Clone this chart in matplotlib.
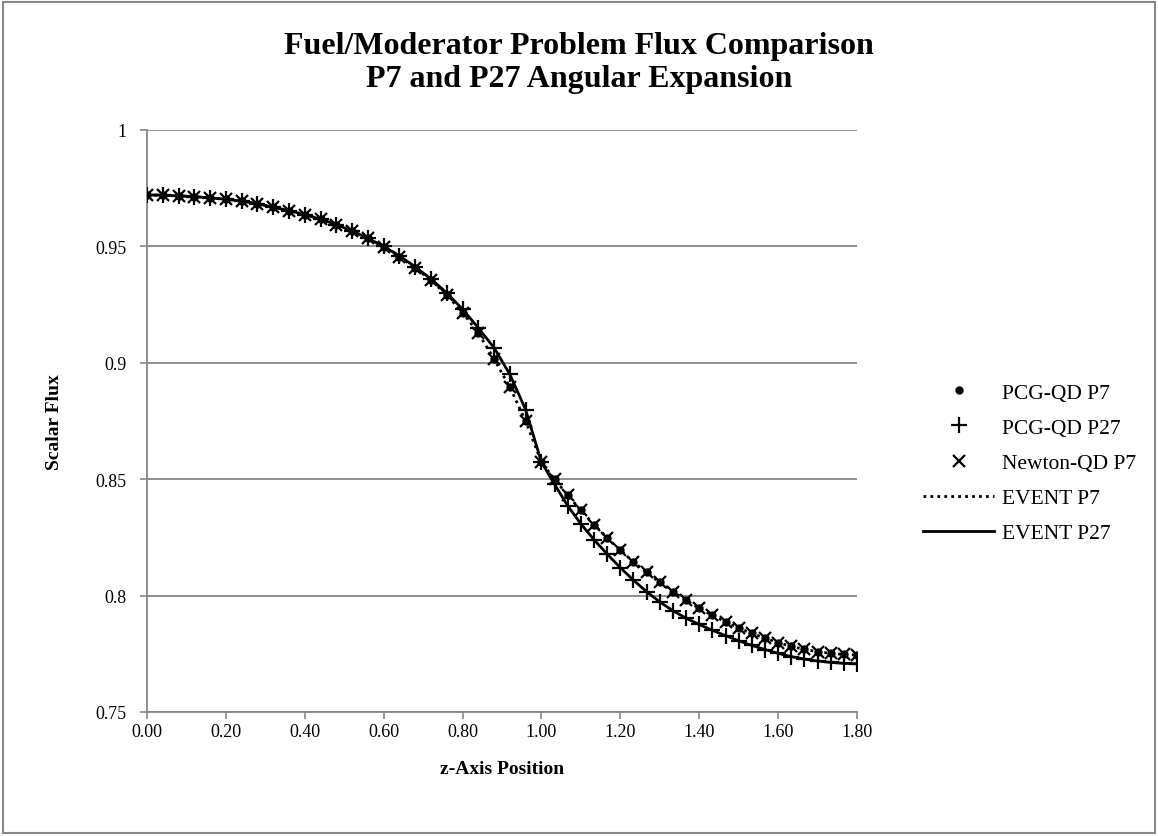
import matplotlib

matplotlib.use("Agg")
import matplotlib.pyplot as plt
from matplotlib.patches import Rectangle

# ---- data (fuel mesh 0.04, moderator mesh 1/30)
z_fuel = [0.00, 0.04, 0.08, 0.12, 0.16, 0.20, 0.24, 0.28, 0.32, 0.36, 0.40, 0.44, 0.48,
          0.52, 0.56, 0.60, 0.64, 0.68, 0.72, 0.76, 0.80, 0.84, 0.88, 0.92, 0.96, 1.00]
z_mod = [1.0333, 1.0667, 1.1000, 1.1333, 1.1667, 1.2000, 1.2333, 1.2667, 1.3000, 1.3333,
         1.3667, 1.4000, 1.4333, 1.4667, 1.5000, 1.5333, 1.5667, 1.6000, 1.6333, 1.6667,
         1.7000, 1.7333, 1.7667, 1.8000]
z = z_fuel + z_mod

pcg_p7 = [0.9721, 0.9720, 0.9717, 0.9714, 0.9708, 0.9703, 0.9694, 0.9683, 0.9668, 0.9654,
          0.9636, 0.9617, 0.9594, 0.9566, 0.9534, 0.9498, 0.9456, 0.9408, 0.9355, 0.9291,
          0.9216, 0.9127, 0.9016, 0.8895, 0.8749, 0.8573,
          0.8499, 0.8431, 0.8366, 0.8305, 0.8248, 0.8195, 0.8144, 0.8100, 0.8057, 0.8017,
          0.7980, 0.7945, 0.7915, 0.7887, 0.7861, 0.7838, 0.7817, 0.7798, 0.7782, 0.7769,
          0.7759, 0.7752, 0.7747, 0.7745]
pcg_p27 = [0.9721, 0.9720, 0.9717, 0.9714, 0.9708, 0.9703, 0.9694, 0.9683, 0.9668, 0.9654,
           0.9636, 0.9617, 0.9594, 0.9566, 0.9535, 0.9500, 0.9459, 0.9412, 0.9360, 0.9300,
           0.9230, 0.9150, 0.9064, 0.8950, 0.8798, 0.8573,
           0.8478, 0.8385, 0.8308, 0.8240, 0.8178, 0.8120, 0.8066, 0.8017, 0.7973, 0.7935,
           0.7903, 0.7876, 0.7851, 0.7828, 0.7806, 0.7786, 0.7768, 0.7752, 0.7738, 0.7727,
           0.7719, 0.7713, 0.7709, 0.7707]
newton_p7 = pcg_p7
event_p7 = pcg_p7
event_p27 = pcg_p27

x_ticks = [0.0, 0.2, 0.4, 0.6, 0.8, 1.0, 1.2, 1.4, 1.6, 1.8]
y_ticks = [0.75, 0.80, 0.85, 0.90, 0.95, 1.00]
y_labels = ["0.75", "0.8", "0.85", "0.9", "0.95", "1"]

plt.rcParams["font.family"] = ["Liberation Serif", "DejaVu Serif"]
GRID = "#868686"

fig = plt.figure(figsize=(11.58, 8.37), dpi=100)
ax = fig.add_axes([147 / 1158, 1 - 713 / 837, (857 - 147) / 1158, (713 - 131) / 837])

ax.plot(z, pcg_p7, ls="none", marker="o", ms=5, color="black", label="PCG-QD P7", zorder=5)
ax.plot(z, pcg_p27, ls="none", marker="+", ms=11, mew=1.6, color="black",
        label="PCG-QD P27", zorder=5)
ax.plot(z, newton_p7, ls="none", marker="x", ms=9, mew=1.6, color="black",
        label="Newton-QD P7", zorder=5)
ax.plot(z, event_p7, ls=(0, (1, 1.5)), lw=2.0, color="black", label="EVENT P7", zorder=4)
ax.plot(z, event_p27, ls="-", lw=2.0, color="black", label="EVENT P27", zorder=4)

ax.set_xlim(0, 1.8)
ax.set_ylim(0.75, 1.0)
ax.set_xticks(x_ticks)
ax.set_xticklabels([f"{v:.2f}" for v in x_ticks])
ax.set_yticks(y_ticks)
ax.set_yticklabels(y_labels)
ax.tick_params(labelsize=13, length=5, width=1.2, color=GRID)
ax.tick_params(axis="y", pad=10)
ax.tick_params(axis="x", pad=3)
ax.yaxis.grid(True, color=GRID, lw=1.3)
ax.set_axisbelow(True)
for s in ("top", "right"):
    ax.spines[s].set_visible(False)
for s in ("left", "bottom"):
    ax.spines[s].set_color(GRID)
    ax.spines[s].set_linewidth(1.3)

ax.set_xlabel("z-Axis Position", fontsize=14, fontweight="bold", labelpad=14)
ax.set_ylabel("Scalar Flux", fontsize=14, fontweight="bold", labelpad=23)

fig.text(0.5, 1 - 63 / 837, "Fuel/Moderator Problem Flux Comparison\nP7 and P27 Angular Expansion",
         ha="center", va="center", fontsize=23, fontweight="bold", linespacing=1.15)

ax.legend(loc="center left", bbox_to_anchor=(904 / 1158, 1 - 464 / 837),
          bbox_transform=fig.transFigure, frameon=False, fontsize=15.5,
          labelspacing=0.7, handlelength=3.3, handletextpad=0.35)

fig.patches.append(Rectangle((0.003, 0.004), 0.994, 0.992, transform=fig.transFigure,
                             fill=False, edgecolor="#888888", lw=1.5))

fig.savefig("out.png", dpi=100)
